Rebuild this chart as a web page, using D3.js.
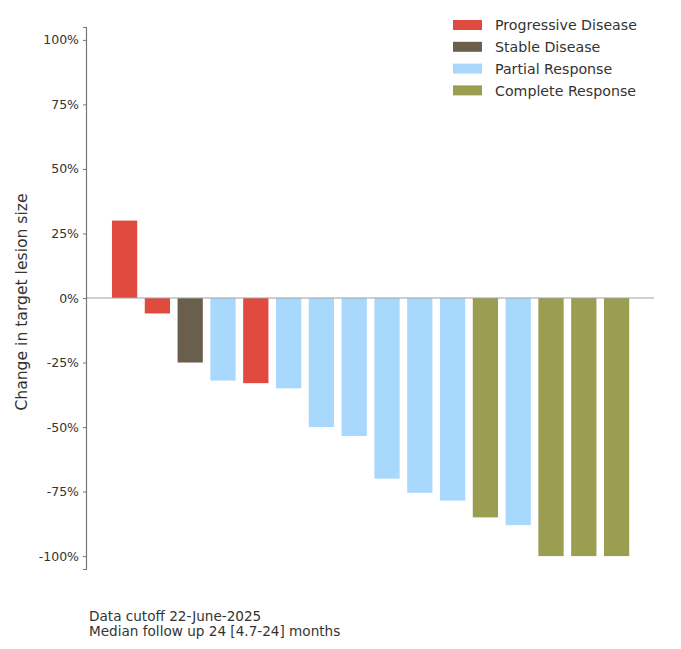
<!DOCTYPE html>
<html>
<head>
  <meta charset="utf8">
  <script src="https://d3js.org/d3.v7.min.js"></script>
  <style>
    body { margin: 0; background: #fff; }
    text { font-family: "DejaVu Sans", Inter, sans-serif; fill: #333; }
    .axis text { font-size: 12.5px; }
    .legend text { font-size: 14.2px; }
    .note { font-size: 13.6px; }
  </style>
</head>
<body>
  <svg id="chart" width="681" height="649"></svg>
  <script>
    var chart = d3.select('#chart');

    // one bar per patient, sorted as in the waterfall
    var patients = d3.range(1, 17).map(String);
    var changes = [30, -6, -25, -32, -33, -35, -50, -53.5, -70, -75.5, -78.5, -85, -88, -100, -100, -100];
    var responses = ['PD', 'PD', 'SD', 'PR', 'PD', 'PR', 'PR', 'PR', 'PR', 'PR', 'PR', 'CR', 'PR', 'CR', 'CR', 'CR'];

    var categories = ['PD', 'SD', 'PR', 'CR'];
    var categoryNames = ['Progressive Disease', 'Stable Disease', 'Partial Response', 'Complete Response'];
    var yTicks = [100, 75, 50, 25, 0, -25, -50, -75, -100];
    var notes = ['Data cutoff 22-June-2025', 'Median follow up 24 [4.7-24] months'];

    var color = d3.scaleOrdinal()
      .domain(categories)
      .range(['#e14b3f', '#6a5e4d', '#a9d8fd', '#9b9e51']);

    var x = d3.scaleBand()
      .domain(patients)
      .range([108.2, 633])
      .paddingInner(0.23)
      .paddingOuter(0.115);

    var y = d3.scaleLinear()
      .domain([-105, 105])
      .range([569, 27]);

    // bars
    chart.append('g')
      .selectAll('rect')
      .data(patients)
      .join('rect')
      .attr('x', (d) => x(d))
      .attr('width', x.bandwidth())
      .attr('y', (d, i) => y(Math.max(0, changes[i])))
      .attr('height', (d, i) => Math.abs(y(changes[i]) - y(0)))
      .attr('fill', (d, i) => color(responses[i]));

    // zero line
    chart.append('line')
      .attr('x1', 86)
      .attr('x2', 654)
      .attr('y1', y(0))
      .attr('y2', y(0))
      .attr('stroke', '#a0a0a0')
      .attr('stroke-width', 1.2);

    // y axis
    var yAxis = chart.append('g')
      .attr('class', 'axis')
      .attr('transform', 'translate(86,0)')
      .call(d3.axisLeft(y).tickValues(yTicks).tickSize(3).tickPadding(4).tickFormat((d) => d + '%'));

    yAxis.select('.domain').attr('stroke', '#777').attr('stroke-width', 1.2);
    yAxis.selectAll('.tick line').attr('stroke', '#777');
    yAxis.selectAll('.tick text').attr('fill', '#333');

    chart.append('text')
      .attr('transform', 'translate(27,302) rotate(-90)')
      .attr('text-anchor', 'middle')
      .style('font-size', '15.6px')
      .text('Change in target lesion size');

    // legend
    var legend = chart.append('g')
      .attr('class', 'legend')
      .attr('transform', 'translate(453,20)');

    var item = legend.selectAll('g')
      .data(categories)
      .join('g')
      .attr('transform', (d, i) => 'translate(0,' + i * 21.8 + ')');

    item.append('rect')
      .attr('width', 29)
      .attr('height', 10)
      .attr('fill', color);

    item.append('text')
      .attr('x', 42)
      .attr('y', 5)
      .attr('dy', '0.36em')
      .text((d, i) => categoryNames[i]);

    // footnote
    chart.append('g')
      .selectAll('text')
      .data(notes)
      .join('text')
      .attr('class', 'note')
      .attr('x', 89)
      .attr('y', (d, i) => 621 + i * 14.5)
      .text((d) => d);
  </script>
</body>
</html>
